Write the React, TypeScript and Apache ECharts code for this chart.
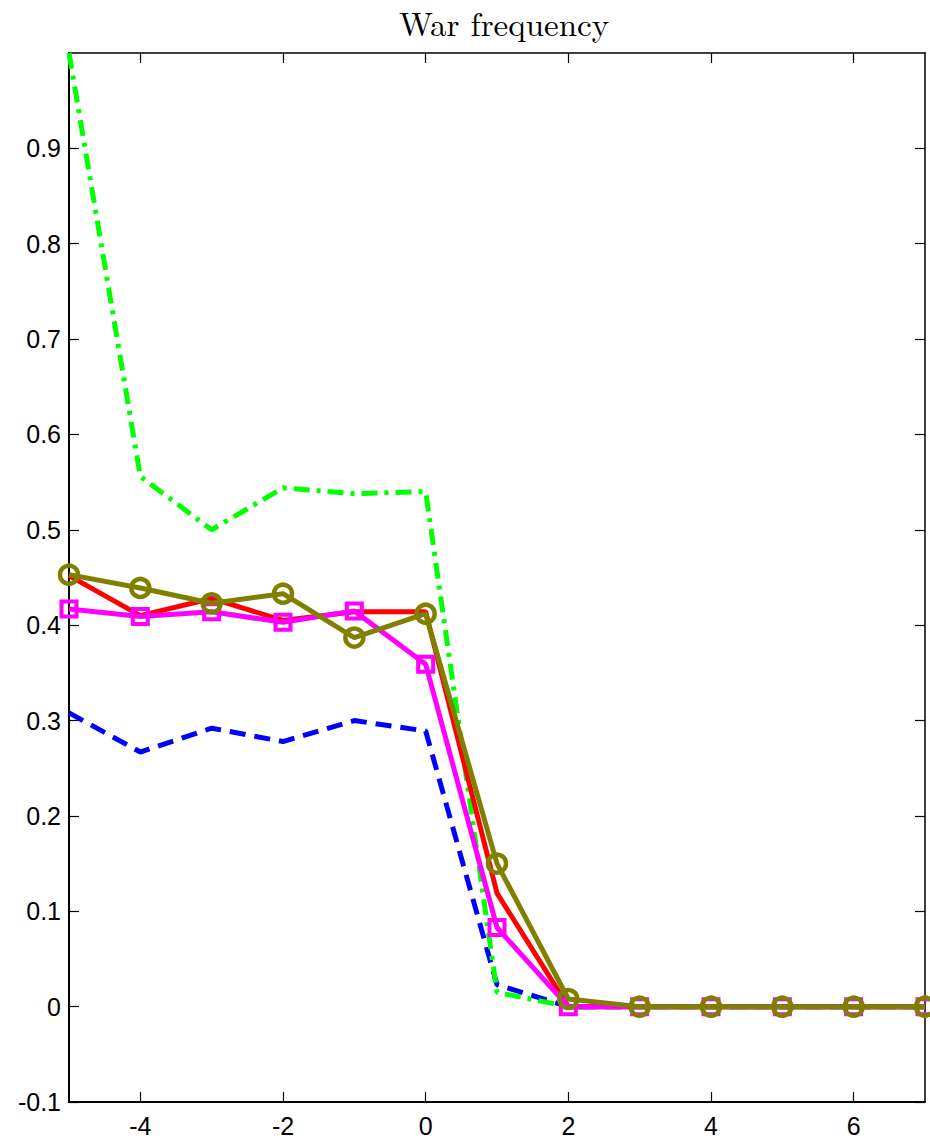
import React, { useEffect, useRef } from "react";
import * as echarts from "echarts";

const xValues = [-5, -4, -3, -2, -1, 0, 1, 2, 3, 4, 5, 6, 7];
const blueDashed = [0.308, 0.267, 0.292, 0.278, 0.3, 0.289, 0.023, 0, 0, 0, 0, 0, 0];
const greenDashDot = [1.0, 0.556, 0.5, 0.544, 0.538, 0.54, 0.015, 0, 0, 0, 0, 0, 0];
const redSolid = [0.452, 0.41, 0.428, 0.405, 0.414, 0.414, 0.119, 0, 0, 0, 0, 0, 0];
const magentaSquares = [0.417, 0.409, 0.414, 0.403, 0.415, 0.359, 0.083, 0, 0, 0, 0, 0, 0];
const oliveCircles = [0.453, 0.439, 0.423, 0.433, 0.387, 0.412, 0.15, 0.008, 0, 0, 0, 0, 0];
const xTickValues = [-4, -2, 0, 2, 4, 6];
const yTickValues = [-0.1, 0, 0.1, 0.2, 0.3, 0.4, 0.5, 0.6, 0.7, 0.8, 0.9];
const titleText = "War frequency";

const pairs = (ys: number[]) => xValues.map((x, i) => [x, ys[i]]);

export default function App() {
  const ref = useRef<HTMLDivElement>(null);
  useEffect(() => {
    document.body.style.margin = "0";
    const chart = echarts.init(ref.current!, null, { renderer: "svg" });
    const labelFont = {
      fontFamily: "'Liberation Sans', Arial, Helvetica, sans-serif",
      fontSize: 25,
      color: "#000",
    };
    const yTickFmt = (v: number) => {
      const r = Math.round(v * 10) / 10;
      if (r >= 1) return "";
      return String(r);
    };
    chart.setOption({
      animation: false,
      backgroundColor: "#fff",
      title: {
        text: titleText,
        left: 499,
        textAlign: "center",
        top: 1,
        textStyle: {
          fontFamily: "'Latin Modern Roman', 'DejaVu Serif', 'Liberation Serif', serif",
          fontWeight: "normal",
          fontSize: 33,
          color: "#000",
        },
      },
      grid: { left: 69, right: 5, top: 53, bottom: 41, containLabel: false },
      xAxis: [
        {
          type: "value",
          min: -5,
          max: 7,
          position: "bottom",
          axisLine: { show: true, onZero: false, lineStyle: { color: "#000", width: 2 } },
          axisTick: { show: true, inside: true, length: 10, customValues: xTickValues, lineStyle: { color: "#000", width: 1.2 } },
          axisLabel: { show: true, margin: 11, customValues: xTickValues, ...labelFont },
          splitLine: { show: false },
        },
        {
          type: "value",
          min: -5,
          max: 7,
          position: "top",
          axisLine: { show: true, onZero: false, lineStyle: { color: "#000", width: 1.5 } },
          axisTick: { show: true, inside: true, length: 10, customValues: xTickValues, lineStyle: { color: "#000", width: 1.2 } },
          axisLabel: { show: false },
          splitLine: { show: false },
        },
      ],
      yAxis: [
        {
          type: "value",
          min: -0.1,
          max: 1.0,
          position: "left",
          axisLine: { show: true, onZero: false, lineStyle: { color: "#000", width: 2 } },
          axisTick: { show: true, inside: true, length: 10, customValues: yTickValues, lineStyle: { color: "#000", width: 1.2 } },
          axisLabel: { show: true, margin: 8, customValues: yTickValues, formatter: yTickFmt, ...labelFont },
          splitLine: { show: false },
        },
        {
          type: "value",
          min: -0.1,
          max: 1.0,
          position: "right",
          axisLine: { show: true, onZero: false, lineStyle: { color: "#000", width: 1.5 } },
          axisTick: { show: true, inside: true, length: 10, customValues: yTickValues, lineStyle: { color: "#000", width: 1.2 } },
          axisLabel: { show: false },
          splitLine: { show: false },
        },
      ],
      series: [
        {
          name: "blue",
          type: "line",
          data: pairs(blueDashed),
          showSymbol: false,
          symbol: "none",
          lineStyle: { color: "#0000ff", width: 5, type: [16, 9] },
          z: 2,
        },
        {
          name: "green",
          type: "line",
          data: pairs(greenDashDot),
          showSymbol: false,
          symbol: "none",
          lineStyle: { color: "#00ff00", width: 5, type: [16, 7, 4, 7] },
          z: 3,
        },
        {
          name: "red",
          type: "line",
          data: pairs(redSolid),
          showSymbol: false,
          symbol: "none",
          lineStyle: { color: "#ff0000", width: 5 },
          z: 4,
        },
        {
          name: "magenta",
          type: "line",
          data: pairs(magentaSquares),
          symbol: "rect",
          symbolSize: 15,
          itemStyle: { color: "rgba(255,255,255,0)", borderColor: "#ff00ff", borderWidth: 4 },
          lineStyle: { color: "#ff00ff", width: 5 },
          z: 5,
        },
        {
          name: "olive",
          type: "line",
          data: pairs(oliveCircles),
          symbol: "circle",
          symbolSize: 18,
          itemStyle: { color: "rgba(255,255,255,0)", borderColor: "#808000", borderWidth: 4.5 },
          lineStyle: { color: "#808000", width: 5 },
          z: 6,
        },
      ],
    });
    return () => chart.dispose();
  }, []);
  return <div ref={ref} style={{ width: 930, height: 1143 }} />;
}
